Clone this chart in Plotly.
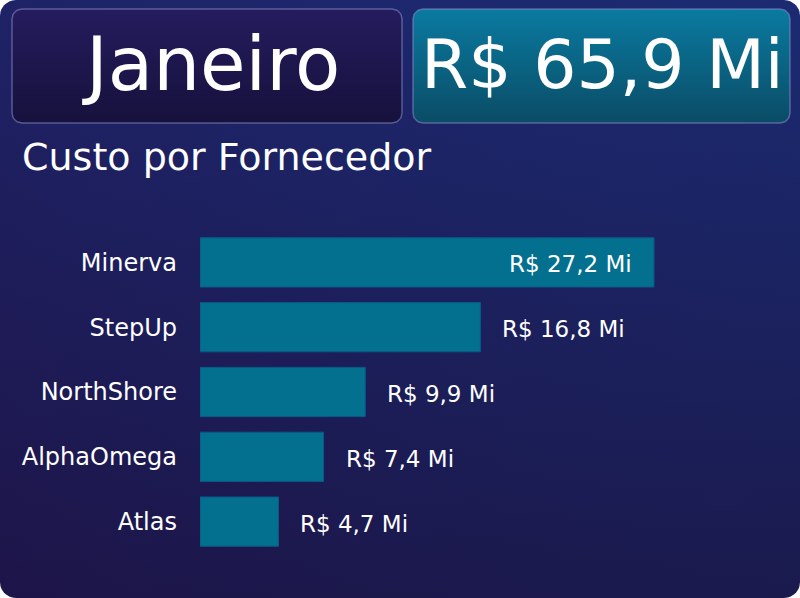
import numpy as np
import plotly.graph_objects as go

# dados do gráfico
fornecedores = ['Minerva', 'StepUp', 'NorthShore', 'AlphaOmega', 'Atlas']
custo_mi = [27.2, 16.8, 9.9, 7.4, 4.7]
mes = 'Janeiro'
total_mi = 65.9
titulo = 'Custo por Fornecedor'

W, H = 800, 598
fonte = 'DejaVu Sans, sans-serif'


def fmt(v):
    # formato brasileiro: vírgula decimal
    return 'R$ ' + f'{v:.1f}'.replace('.', ',') + ' Mi'


def ret_arredondado(x0, y0, x1, y1, r, n=12):
    # pontos de um retângulo com cantos arredondados (coordenadas em pixel)
    xs, ys = [], []
    cantos = [(x1 - r, y0 + r, -90, 0), (x1 - r, y1 - r, 0, 90),
              (x0 + r, y1 - r, 90, 180), (x0 + r, y0 + r, 180, 270)]
    for cx, cy, a0, a1 in cantos:
        t = np.radians(np.linspace(a0, a1, n))
        xs += list(cx + r * np.cos(t))
        ys += list(cy + r * np.sin(t))
    xs.append(xs[0])
    ys.append(ys[0])
    return xs, ys


fig = go.Figure()

# fundo do cartão (camada decorativa em pixels)
xs, ys = ret_arredondado(0, 0, W, H, 16)
fig.add_trace(go.Scatter(x=xs, y=ys, fill='toself', mode='lines', line=dict(width=0),
                         fillgradient=dict(type='vertical',
                                           colorscale=[[0, '#1a1542'], [1, '#1c2a70']]),
                         hoverinfo='skip', showlegend=False))
fig.add_trace(go.Scatter(x=xs, y=ys, fill='toself', mode='lines', line=dict(width=0),
                         fillgradient=dict(type='horizontal',
                                           colorscale=[[0, 'rgba(35,20,85,0.35)'], [1, 'rgba(25,45,120,0.2)']]),
                         hoverinfo='skip', showlegend=False))

# caixa do mês
xs, ys = ret_arredondado(12, 9, 402, 123, 10)
fig.add_trace(go.Scatter(x=xs, y=ys, fill='toself', mode='lines',
                         line=dict(width=1.5, color='rgba(140,140,200,0.55)'),
                         fillgradient=dict(type='vertical',
                                           colorscale=[[0, '#16113c'], [1, '#241c5e']]),
                         hoverinfo='skip', showlegend=False))

# caixa do total
xs, ys = ret_arredondado(413, 9, 790, 123, 10)
fig.add_trace(go.Scatter(x=xs, y=ys, fill='toself', mode='lines',
                         line=dict(width=1.5, color='rgba(140,140,200,0.55)'),
                         fillgradient=dict(type='vertical',
                                           colorscale=[[0, '#0a4c66'], [1, '#0a7aa0']]),
                         hoverinfo='skip', showlegend=False))

# barras
fig.add_trace(go.Bar(
    x=custo_mi, y=fornecedores, orientation='h', width=0.76,
    marker=dict(color='#03708f', line=dict(color='#0b5a86', width=1)),
    xaxis='x2', yaxis='y2', hoverinfo='skip', showlegend=False))

# rótulos das barras
for i, (f, v) in enumerate(zip(fornecedores, custo_mi)):
    dentro = i == 0
    fig.add_annotation(x=v, y=f, xref='x2', yref='y2', text=fmt(v), showarrow=False,
                       xanchor='right' if dentro else 'left', xshift=-20 if dentro else 20,
                       yshift=-2, font=dict(family=fonte, size=23, color='white'))

# textos do topo
fig.add_annotation(x=211 / W, y=1 - 64 / H, xref='paper', yref='paper', text=mes,
                   showarrow=False, xanchor='center', yanchor='middle',
                   font=dict(family=fonte, size=74, color='white'))
fig.add_annotation(x=602 / W, y=1 - 64 / H, xref='paper', yref='paper', text=fmt(total_mi),
                   showarrow=False, xanchor='center', yanchor='middle',
                   font=dict(family=fonte, size=68, color='white'))
fig.add_annotation(x=20 / W, y=1 - 157 / H, xref='paper', yref='paper', text=titulo,
                   showarrow=False, xanchor='left', yanchor='middle',
                   font=dict(family=fonte, size=38, color='white'))

fig.update_layout(
    width=W, height=H,
    margin=dict(l=0, r=0, t=0, b=0),
    paper_bgcolor='white', plot_bgcolor='rgba(0,0,0,0)',
    xaxis=dict(domain=[0, 1], range=[0, W], visible=False, fixedrange=True),
    yaxis=dict(domain=[0, 1], range=[H, 0], visible=False, fixedrange=True),
    xaxis2=dict(domain=[200 / W, 780 / W], anchor='y2', range=[0, 34.75], visible=False),
    yaxis2=dict(domain=[44 / H, 368 / H], anchor='x2', autorange='reversed',
                showgrid=False, zeroline=False, showline=False, ticks='',
                ticklabelstandoff=22,
                tickfont=dict(family=fonte, size=24, color='white')),
)

# sem margem do body para o cartão ocupar a janela inteira
fig.write_html('out.html', config={'displayModeBar': False},
               post_script="document.body.style.margin='0';")
